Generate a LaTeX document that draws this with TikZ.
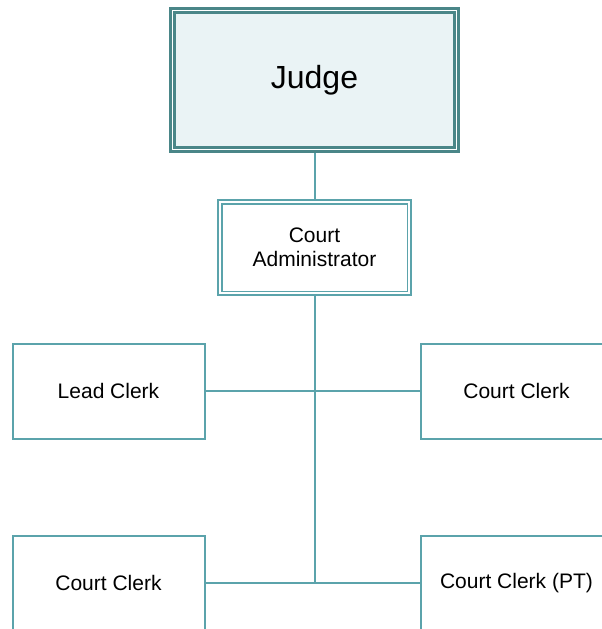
\documentclass[tikz,border=0pt]{standalone}
\usepackage{fontspec}
\setmainfont{Liberation Sans}
\usepackage{tikz}
\usetikzlibrary{positioning}

\definecolor{judgeline}{RGB}{74,134,136}
\definecolor{judgefill}{RGB}{234,243,245}
\definecolor{orgline}{RGB}{91,163,171}

\begin{document}
\begin{tikzpicture}[x=1pt, y=-1pt, semithick, every node/.style={font=\fontsize{21}{24}\selectfont}]
            \tikzstyle{post}=[draw=orgline, line width=2pt, fill=white, minimum width=192pt, minimum height=95pt, inner sep=0pt, outer sep=1pt]
            \tikzstyle{head}=[draw=judgeline, fill=judgefill, double=white, line width=2.75pt, double distance=1.5pt, minimum width=284pt, minimum height=139pt, outer sep=3.5pt, font=\fontsize{32}{38}\selectfont]
            \tikzstyle{admin}=[draw=orgline, fill=white, double=white, line width=1.75pt, double distance=2pt, minimum width=189.5pt, minimum height=91.5pt, outer sep=2.75pt, align=center]
            \tikzstyle{link}=[draw=orgline, line width=2pt]

            \useasboundingbox (0,0) rectangle (602,629);

            \node[head]  (judge)  at (314.5,80)    {Judge};
            \node[admin] (admin)  at (314.5,247.5) {Court\\Administrator};
            \node[post]  (lead)   at (108.5,391)   {Lead Clerk};
            \node[post]  (clerkA) at (516.5,391)   {Court Clerk};
            \node[post]  (clerkB) at (108.5,583)   {Court Clerk};
            \node[post]  (clerkC) at (516.5,583)   {Court Clerk (PT)};
            \coordinate (stem) at (314.5,583);

            \path[link] (judge.south) -- (admin.north);
            \path[link] (admin.south) -- (stem);
            \path[link] (lead.east) -- (clerkA.west);
            \path[link] (clerkB.east) -- (clerkC.west);
          \end{tikzpicture}
\end{document}
